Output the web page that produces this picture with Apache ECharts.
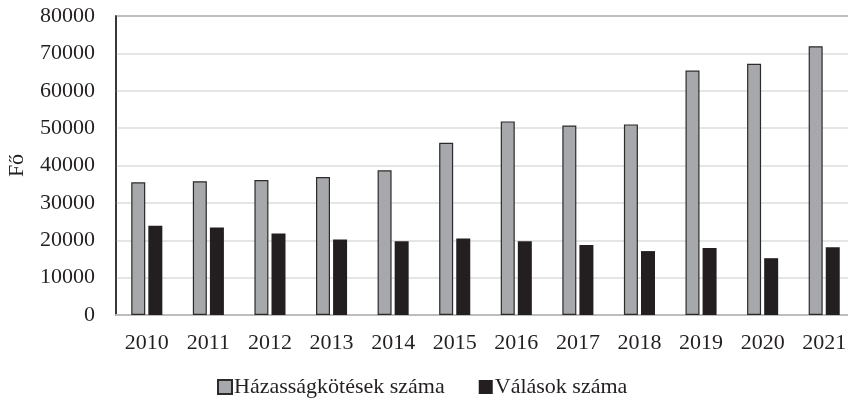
<!DOCTYPE html>
<html>
<head>
<meta charset="utf-8">
<script src="https://cdn.jsdelivr.net/npm/echarts@6/dist/echarts.min.js"></script>
<style>
  html, body { margin: 0; padding: 0; background: #fff; }
  #main { width: 848px; height: 401px; }
</style>
</head>
<body>
<div id="main"></div>
<script>
// évek és adatok
var years = ['2010', '2011', '2012', '2013', '2014', '2015', '2016', '2017', '2018', '2019', '2020', '2021'];
var hazassag = [35500, 35800, 36100, 36900, 38700, 46100, 51800, 50700, 51000, 65400, 67200, 71900];
var valas = [23900, 23400, 21800, 20200, 19700, 20500, 19700, 18700, 17100, 17900, 15200, 18100];
var seriesNames = ['Házasságkötések száma', 'Válások száma'];
var yTicks = [0, 80000, 10000]; // min, max, lépés

var font = '"Liberation Serif", "DejaVu Serif", serif';
var textColor = '#231f20';

var myChart = echarts.init(document.getElementById('main'));
var option = {
    animation: false,
    grid: {
        left: 116,
        right: -7,
        top: 16,
        bottom: 86,
        outerBoundsMode: 'none',
        containLabel: false,
        show: true,
        borderColor: '#2b2b2b',
        borderWidth: 1.5,
        backgroundColor: 'transparent'
    },
    legend: {
        left: 212,
        top: 371,
        itemWidth: 14,
        itemHeight: 14,
        itemGap: 34,
        icon: 'rect',
        textStyle: { fontFamily: font, fontSize: 22, color: textColor, padding: [0, 0, 0, -3] },
        data: seriesNames
    },
    xAxis: {
        type: 'category',
        data: years,
        axisLine: { lineStyle: { color: '#bdbdbd', width: 2 } },
        axisTick: { show: false },
        axisLabel: { fontFamily: font, fontSize: 22, color: textColor, margin: 17, interval: 0 }
    },
    yAxis: {
        type: 'value',
        min: yTicks[0],
        max: yTicks[1],
        interval: yTicks[2],
        name: 'Fő',
        nameLocation: 'middle',
        nameGap: 88,
        nameTextStyle: { fontFamily: font, fontSize: 22, color: textColor },
        axisLine: { show: true, lineStyle: { color: '#2b2b2b', width: 1.5 } },
        axisTick: { show: false },
        axisLabel: {
            fontFamily: font, fontSize: 22, color: textColor, margin: 21,
            formatter: function (v) { return String(v); }
        },
        splitLine: { lineStyle: { color: '#dcdcdc', width: 1.5 } }
    },
    series: [{
        name: seriesNames[0],
        type: 'bar',
        barWidth: 14,
        barGap: '22%',
        data: hazassag,
        itemStyle: { color: '#a7a8ab', borderColor: '#2b2b2b', borderWidth: 1.2 }
    }, {
        name: seriesNames[1],
        type: 'bar',
        barWidth: 14,
        data: valas,
        itemStyle: { color: '#231f20' }
    }]
};
myChart.setOption(option);
</script>
</body>
</html>
